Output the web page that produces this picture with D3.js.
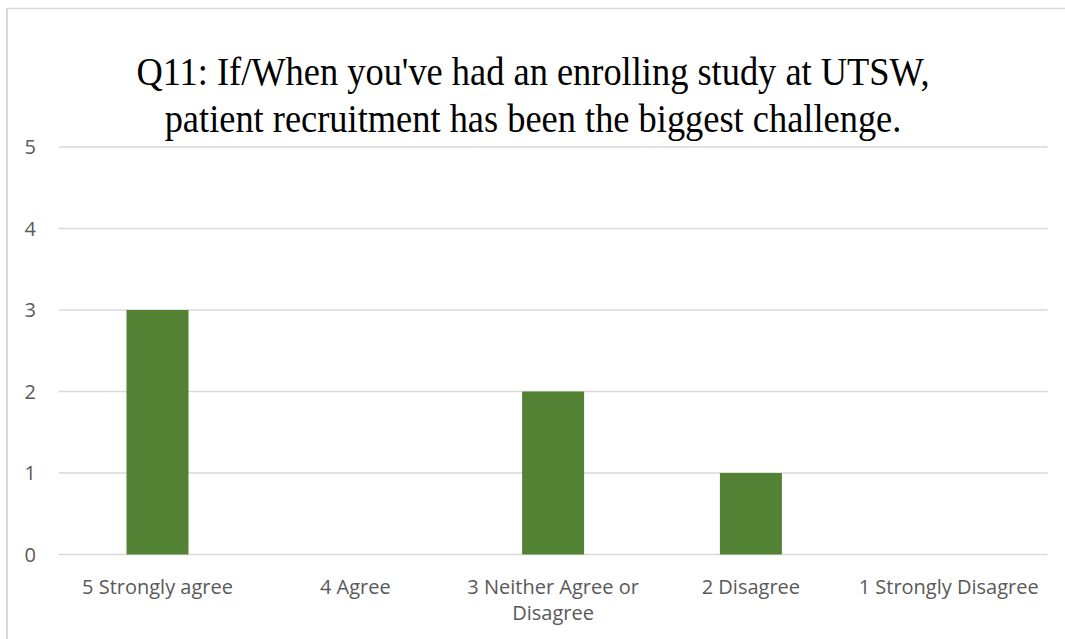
<!DOCTYPE html>
<html lang="en">
<head>
    <meta charset="UTF-8">
    <title>Q11 chart</title>
    <script src="https://d3js.org/d3.v7.min.js"></script>
    <style>
        body { margin: 0; background: #fff; }
        .grid line { stroke: #d9d9d9; stroke-width: 1.3; }
        .tick-label { font-family: "Open Sans", sans-serif; font-size: 20px; fill: #595959; }
        .title { font-family: "Liberation Serif", "Times New Roman", serif; font-size: 40px; fill: #000; }
    </style>
</head>
<body>
    <svg width="1065" height="639"></svg>
    <script>
        // data
        const categories = ["5 Strongly agree", "4 Agree", "3 Neither Agree or Disagree", "2 Disagree", "1 Strongly Disagree"];
        const counts = [3, 0, 2, 1, 0];
        const yTicks = [0, 1, 2, 3, 4, 5];
        const titleLines = ["Q11: If/When you've had an enrolling study at UTSW,", "patient recruitment has been the biggest challenge."];

        const svg = d3.select("svg");

        // chart frame (only top and left edges are visible in the crop)
        svg.append("line").attr("x1", 7).attr("x2", 1065).attr("y1", 8.5).attr("y2", 8.5)
            .attr("stroke", "#d9d9d9").attr("stroke-width", 1.5);
        svg.append("line").attr("x1", 7).attr("x2", 7).attr("y1", 8).attr("y2", 639)
            .attr("stroke", "#d9d9d9").attr("stroke-width", 2);

        const x = d3.scaleBand()
            .domain(categories)
            .range([58.6, 1047.6])
            .paddingInner(0)
            .paddingOuter(0);

        const y = d3.scaleLinear()
            .domain([0, 5])
            .range([554.5, 147]);

        const barW = x.bandwidth() / 3.19;

        // gridlines
        svg.append("g").attr("class", "grid")
            .selectAll("line")
            .data(yTicks)
            .enter().append("line")
            .attr("x1", x.range()[0])
            .attr("x2", x.range()[1])
            .attr("y1", d => y(d))
            .attr("y2", d => y(d));

        // y labels
        svg.append("g")
            .selectAll("text")
            .data(yTicks)
            .enter().append("text")
            .attr("class", "tick-label")
            .attr("x", 36)
            .attr("y", d => y(d))
            .attr("dy", "0.35em")
            .attr("text-anchor", "end")
            .text(d => d);

        // bars
        svg.append("g")
            .selectAll("rect")
            .data(categories)
            .enter().append("rect")
            .attr("x", d => x(d) + (x.bandwidth() - barW) / 2)
            .attr("y", (d, i) => y(counts[i]))
            .attr("width", barW)
            .attr("height", (d, i) => y(0) - y(counts[i]))
            .attr("fill", "#548235");

        // x labels, wrapped like the original
        const wrapped = {
            "3 Neither Agree or Disagree": ["3 Neither Agree or", "Disagree"]
        };
        svg.append("g")
            .selectAll("text")
            .data(categories)
            .enter().append("text")
            .attr("class", "tick-label")
            .attr("text-anchor", "middle")
            .attr("y", 594)
            .each(function (d) {
                const lines = wrapped[d] || [d];
                d3.select(this).selectAll("tspan")
                    .data(lines)
                    .enter().append("tspan")
                    .attr("x", x(d) + x.bandwidth() / 2)
                    .attr("dy", (l, i) => i === 0 ? 0 : 26)
                    .text(l => l);
            });

        // title (Times in the original renders narrow and tall)
        const sx = 0.91;
        svg.append("g")
            .attr("transform", "translate(533,0) scale(" + sx + ",1)")
            .selectAll("text")
            .data(titleLines)
            .enter().append("text")
            .attr("class", "title")
            .attr("x", 0)
            .attr("y", (d, i) => 85 + i * 47)
            .attr("text-anchor", "middle")
            .text(d => d);
    </script>
</body>
</html>
